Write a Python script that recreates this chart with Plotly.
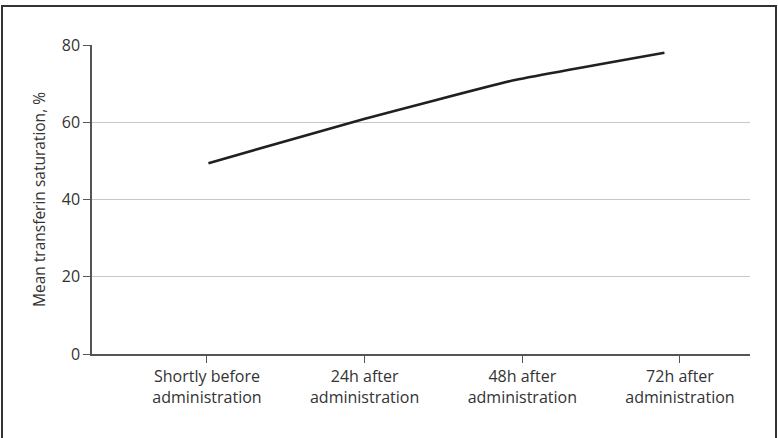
import plotly.graph_objects as go

categories = ["Shortly before<br>administration", "24h after<br>administration",
              "48h after<br>administration", "72h after<br>administration"]
saturation = [49.4, 60.6, 70.8, 78.0]
y_ticks = [0, 20, 40, 60, 80]

fig = go.Figure()
fig.add_trace(go.Scatter(
    x=list(range(len(categories))), y=saturation, mode="lines",
    line=dict(color="#231f20", width=2.6, shape="spline", smoothing=0.35),
    xaxis="x2", showlegend=False, hoverinfo="skip"))
# invisible trace to set category axis
fig.add_trace(go.Scatter(x=categories, y=[None]*4, mode="markers",
                         showlegend=False, hoverinfo="skip"))

L, R, T, B = 92, 28, 45, 84
W, H = 778, 438
pw = W - L - R
ph = H - T - B

fig.update_layout(
    width=W, height=H,
    margin=dict(l=L, r=R, t=T, b=B, autoexpand=False),
    paper_bgcolor="white", plot_bgcolor="white",
    font=dict(family="Open Sans, Segoe UI, sans-serif", size=16, color="#333333"),
    xaxis=dict(type="category", range=[-0.729, 3.444], showgrid=False,
               showline=True, linecolor="#555555", linewidth=1.5,
               ticks="outside", ticklen=7, tickcolor="#555555", tickwidth=1,
               tickfont=dict(size=16, color="#333333"), fixedrange=True),
    xaxis2=dict(overlaying="x", range=[-0.766, 3.563], visible=False),
    yaxis=dict(range=[0, 80], tickvals=y_ticks, showgrid=True,
               gridcolor="#c8c8c8", gridwidth=1, zeroline=False,
               showline=True, linecolor="#555555", linewidth=1.5,
               ticks="outside", ticklen=7, tickcolor="#555555",
               tickfont=dict(size=16, color="#333333"),
               title=dict(text="Mean transferin saturation, %",
                          font=dict(size=15.5, color="#333333"), standoff=12)),
    shapes=[dict(type="rect", xref="paper", yref="paper",
                 x0=(2 - L) / pw, x1=(776 - L) / pw,
                 y0=-0.4, y1=(H - B - 6) / ph,
                 line=dict(color="#333333", width=2), fillcolor="rgba(0,0,0,0)",
                 layer="above")],
)

fig.write_html("out.html", config={"displayModeBar": False},
               post_script="document.body.style.margin='0';document.body.style.overflow='hidden';")
